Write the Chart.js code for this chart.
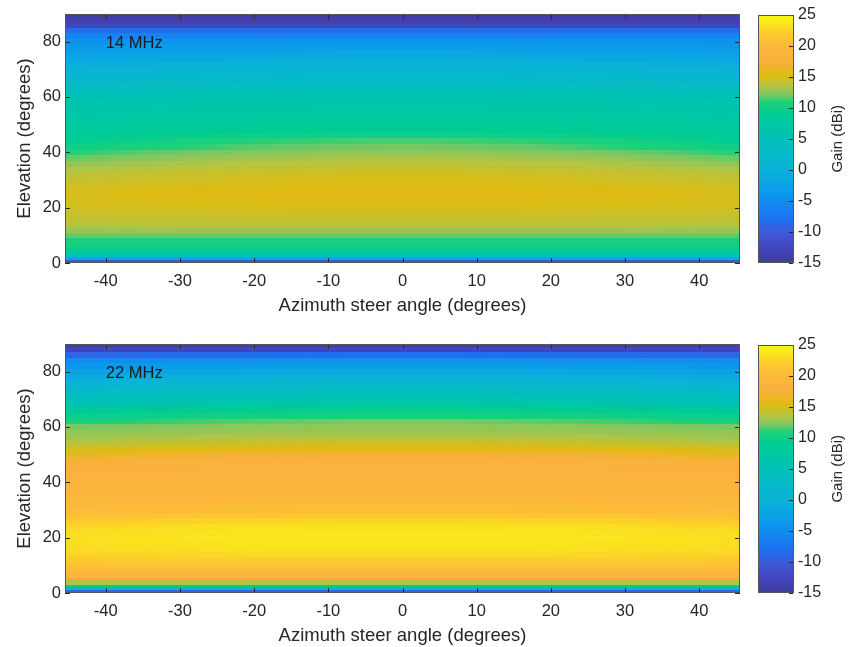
<!DOCTYPE html>
<html>
<head>
<meta charset="utf-8">
<script src="https://cdn.jsdelivr.net/npm/chart.js@4.4.1/dist/chart.umd.min.js"></script>
<style>
  body { margin: 0; background: #fff; }
  .panel { position: absolute; left: 0; width: 851px; height: 317px; }
  .panel canvas { position: absolute; top: 0; }
</style>
</head>
<body>
<div class="panel" style="top:0">
  <canvas id="map14" width="750" height="317" style="left:0"></canvas>
  <canvas id="bar14" width="101" height="317" style="left:750px"></canvas>
</div>
<div class="panel" style="top:330px">
  <canvas id="map22" width="750" height="317" style="left:0"></canvas>
  <canvas id="bar22" width="101" height="317" style="left:750px"></canvas>
</div>
<script>
// cell centres along azimuth, cell edges along elevation (degrees)
const azimuth = [-45, -37.5, -30, -22.5, -15, -7.5, 0, 7.5, 15, 22.5, 30, 37.5, 45];
const elevEdges = [0, 1, 2, 3, 5, 7, 9, 11, 13, 15, 17, 19, 21, 23, 25, 27, 29, 31, 33, 35, 37, 39, 41,
  43, 45, 47, 49, 51, 53, 55, 57, 59, 61, 63, 65, 67, 69, 71, 73, 75, 77, 79, 81, 83, 85, 87, 89, 90];
const xTicks = [-40, -30, -20, -10, 0, 10, 20, 30, 40];
const yTicks = [0, 20, 40, 60, 80];
const gainTicks = [-15, -10, -5, 0, 5, 10, 15, 20, 25];

// gain (dBi), one row per elevation band, bottom to top
const gain14 = [
  [-10,-10,-10,-10,-10,-10,-10,-10,-10,-10,-10,-10,-10],
  [-1,-1,-1,-1,-1,-1,-1,-1,-1,-1,-1,-1,-1],
  [3,3,3,3,3,3,3,3,3,3,3,3,3],
  [7.5,7.5,7.5,7.5,7.5,7.5,7.5,7.5,7.5,7.5,7.5,7.5,7.5],
  [10,10,10,10,10,10,10,10,10,10,10,10,10],
  [10.5,10.5,10.5,10.5,10.5,10.5,10.5,10.5,10.5,10.5,10.5,10.5,10.5],
  [11.8,11.8,11.8,11.8,11.8,11.8,11.8,11.8,11.8,11.8,11.8,11.8,11.8],
  [12.8,12.9,13,13,13,13,13,13,13,13,13,12.9,12.8],
  [13.6,13.7,13.8,13.8,13.8,13.8,13.8,13.8,13.8,13.8,13.8,13.7,13.6],
  [14.1,14.2,14.2,14.3,14.3,14.3,14.3,14.3,14.3,14.3,14.2,14.2,14.1],
  [14.4,14.5,14.6,14.6,14.7,14.7,14.7,14.7,14.7,14.6,14.6,14.5,14.4],
  [14.7,14.8,14.9,14.9,15,15,15,15,15,14.9,14.9,14.8,14.7],
  [14.8,15,15.1,15.2,15.2,15.3,15.3,15.3,15.2,15.2,15.1,15,14.8],
  [14.9,15.1,15.3,15.4,15.5,15.6,15.6,15.6,15.5,15.4,15.3,15.1,14.9],
  [14.9,15.1,15.3,15.4,15.5,15.6,15.6,15.6,15.5,15.4,15.3,15.1,14.9],
  [14.6,14.8,15,15.1,15.2,15.3,15.3,15.3,15.2,15.1,15,14.8,14.6],
  [14.2,14.4,14.6,14.8,14.9,15,15,15,14.9,14.8,14.6,14.4,14.2],
  [13.8,14.1,14.4,14.6,14.7,14.8,14.8,14.8,14.7,14.6,14.4,14.1,13.8],
  [13.2,13.5,13.8,14,14.2,14.3,14.3,14.3,14.2,14,13.8,13.5,13.2],
  [12.6,13,13.3,13.5,13.7,13.8,13.8,13.8,13.7,13.5,13.3,13,12.6],
  [11.8,12.2,12.6,12.9,13,13.2,13.2,13.2,13,12.9,12.6,12.2,11.8],
  [11,11.5,11.9,12.2,12.4,12.6,12.6,12.6,12.4,12.2,11.9,11.5,11],
  [9.8,10.5,11,11.5,11.8,11.9,12,11.9,11.8,11.5,11,10.5,9.8],
  [9,9.8,10.4,10.9,11.2,11.4,11.5,11.4,11.2,10.9,10.4,9.8,9],
  [8.5,9,9.3,9.6,9.8,10,10,10,9.8,9.6,9.3,9,8.5],
  [8,8.3,8.6,8.8,8.9,9,9,9,8.9,8.8,8.6,8.3,8],
  [7.6,7.9,8.1,8.3,8.4,8.5,8.5,8.5,8.4,8.3,8.1,7.9,7.6],
  [7.2,7.4,7.6,7.8,7.9,8,8,8,7.9,7.8,7.6,7.4,7.2],
  [6.8,7,7.2,7.3,7.4,7.5,7.5,7.5,7.4,7.3,7.2,7,6.8],
  [6.3,6.5,6.7,6.8,6.9,7,7,7,6.9,6.8,6.7,6.5,6.3],
  [5.7,5.9,6.1,6.3,6.4,6.5,6.5,6.5,6.4,6.3,6.1,5.9,5.7],
  [5,5.3,5.6,5.8,5.9,6,6,6,5.9,5.8,5.6,5.3,5],
  [4,4.3,4.6,4.8,4.9,5,5,5,4.9,4.8,4.6,4.3,4],
  [3,3.3,3.6,3.8,3.9,4,4,4,3.9,3.8,3.6,3.3,3],
  [2,2.3,2.6,2.8,2.9,3,3,3,2.9,2.8,2.6,2.3,2],
  [1,1.3,1.6,1.8,1.9,2,2,2,1.9,1.8,1.6,1.3,1],
  [0,0.3,0.6,0.8,0.9,1,1,1,0.9,0.8,0.6,0.3,0],
  [-1,-0.7,-0.4,-0.2,-0.1,0,0,0,-0.1,-0.2,-0.4,-0.7,-1],
  [-2,-1.7,-1.4,-1.2,-1.1,-1,-1,-1,-1.1,-1.2,-1.4,-1.7,-2],
  [-2.8,-2.6,-2.4,-2.2,-2.1,-2,-2,-2,-2.1,-2.2,-2.4,-2.6,-2.8],
  [-3.6,-3.4,-3.3,-3.2,-3.1,-3,-3,-3,-3.1,-3.2,-3.3,-3.4,-3.6],
  [-4.5,-4.3,-4.2,-4.1,-4,-4,-4,-4,-4,-4.1,-4.2,-4.3,-4.5],
  [-6,-6,-6,-6,-6,-6,-6,-6,-6,-6,-6,-6,-6],
  [-8.5,-8.5,-8.5,-8.5,-8.5,-8.5,-8.5,-8.5,-8.5,-8.5,-8.5,-8.5,-8.5],
  [-13,-13,-13,-13,-13,-13,-13,-13,-13,-13,-13,-13,-13],
  [-14,-14,-14,-14,-14,-14,-14,-14,-14,-14,-14,-14,-14],
  [-14.5,-14.5,-14.5,-14.5,-14.5,-14.5,-14.5,-14.5,-14.5,-14.5,-14.5,-14.5,-14.5]
];

const gain22 = [
  [-9,-9,-9,-9,-9,-9,-9,-9,-9,-9,-9,-9,-9],
  [0,0,0,0,0,0,0,0,0,0,0,0,0],
  [8,8,8,8,8,8,8,8,8,8,8,8,8],
  [13.5,13.5,13.5,13.5,13.5,13.5,13.5,13.5,13.5,13.5,13.5,13.5,13.5],
  [18.5,18.5,18.5,18.5,18.5,18.5,18.5,18.5,18.5,18.5,18.5,18.5,18.5],
  [20,20,20,20,20,20,20,20,20,20,20,20,20],
  [21,21,21,21,21,21,21,21,21,21,21,21,21],
  [21.9,22,22.1,22.1,22.2,22.2,22.2,22.2,22.2,22.1,22.1,22,21.9],
  [22.6,22.7,22.8,22.9,23,23,23,23,23,22.9,22.8,22.7,22.6],
  [23,23.1,23.2,23.3,23.4,23.4,23.4,23.4,23.4,23.3,23.2,23.1,23],
  [23.2,23.3,23.4,23.5,23.6,23.6,23.6,23.6,23.6,23.5,23.4,23.3,23.2],
  [23.2,23.4,23.5,23.6,23.6,23.7,23.7,23.7,23.6,23.6,23.5,23.4,23.2],
  [23,23.2,23.3,23.5,23.5,23.6,23.6,23.6,23.5,23.5,23.3,23.2,23],
  [22.6,22.8,23,23.2,23.3,23.4,23.4,23.4,23.3,23.2,23,22.8,22.6],
  [21.8,22.1,22.3,22.5,22.6,22.7,22.7,22.7,22.6,22.5,22.3,22.1,21.8],
  [20.8,21,21.2,21.4,21.5,21.6,21.6,21.6,21.5,21.4,21.2,21,20.8],
  [20.2,20.4,20.5,20.7,20.7,20.8,20.8,20.8,20.7,20.7,20.5,20.4,20.2],
  [19.6,19.8,19.9,20.1,20.1,20.2,20.2,20.2,20.1,20.1,19.9,19.8,19.6],
  [19.2,19.3,19.4,19.5,19.6,19.6,19.6,19.6,19.6,19.5,19.4,19.3,19.2],
  [19,19.1,19.1,19.2,19.2,19.2,19.2,19.2,19.2,19.2,19.1,19.1,19],
  [18.8,18.9,18.9,19,19,19,19,19,19,19,18.9,18.9,18.8],
  [18.6,18.7,18.7,18.8,18.8,18.8,18.8,18.8,18.8,18.8,18.7,18.7,18.6],
  [18.4,18.5,18.5,18.6,18.6,18.6,18.6,18.6,18.6,18.6,18.5,18.5,18.4],
  [18.2,18.3,18.3,18.4,18.4,18.4,18.4,18.4,18.4,18.4,18.3,18.3,18.2],
  [18,18.1,18.1,18.2,18.2,18.2,18.2,18.2,18.2,18.2,18.1,18.1,18],
  [17.2,17.4,17.6,17.8,17.9,18,18,18,17.9,17.8,17.6,17.4,17.2],
  [15.8,16.2,16.6,16.9,17,17.2,17.2,17.2,17,16.9,16.6,16.2,15.8],
  [14.8,15.1,15.4,15.6,15.7,15.8,15.8,15.8,15.7,15.6,15.4,15.1,14.8],
  [13.6,14,14.3,14.5,14.7,14.8,14.8,14.8,14.7,14.5,14.3,14,13.6],
  [13,13.2,13.3,13.5,13.5,13.6,13.6,13.6,13.5,13.5,13.3,13.2,13],
  [12.6,12.7,12.8,12.9,13,13,13,13,13,12.9,12.8,12.7,12.6],
  [12,12.2,12.3,12.5,12.5,12.6,12.6,12.6,12.5,12.5,12.3,12.2,12],
  [10.5,11,11.3,11.6,11.8,12,12,12,11.8,11.6,11.3,11,10.5],
  [9.5,9.8,10.1,10.3,10.4,10.5,10.5,10.5,10.4,10.3,10.1,9.8,9.5],
  [7.5,8.1,8.6,9,9.3,9.4,9.5,9.4,9.3,9,8.6,8.1,7.5],
  [6,6.5,6.8,7.1,7.3,7.5,7.5,7.5,7.3,7.1,6.8,6.5,6],
  [4.5,5,5.3,5.6,5.8,6,6,6,5.8,5.6,5.3,5,4.5],
  [3,3.5,3.8,4.1,4.3,4.5,4.5,4.5,4.3,4.1,3.8,3.5,3],
  [1.5,2,2.3,2.6,2.8,3,3,3,2.8,2.6,2.3,2,1.5],
  [0,0.5,0.8,1.1,1.3,1.5,1.5,1.5,1.3,1.1,0.8,0.5,0],
  [-1.2,-0.8,-0.5,-0.3,-0.1,0,0,0,-0.1,-0.3,-0.5,-0.8,-1.2],
  [-2.5,-2.2,-1.9,-1.8,-1.6,-1.5,-1.5,-1.5,-1.6,-1.8,-1.9,-2.2,-2.5],
  [-3.8,-3.6,-3.4,-3.2,-3.1,-3,-3,-3,-3.1,-3.2,-3.4,-3.6,-3.8],
  [-5,-4.8,-4.7,-4.6,-4.6,-4.5,-4.5,-4.5,-4.6,-4.6,-4.7,-4.8,-5],
  [-9,-8.7,-8.4,-8.3,-8.1,-8,-8,-8,-8.1,-8.3,-8.4,-8.7,-9],
  [-13,-13,-13,-13,-13,-13,-13,-13,-13,-13,-13,-13,-13],
  [-14,-14,-14,-14,-14,-14,-14,-14,-14,-14,-14,-14,-14]
];

// colour map, dBi -> colour
const cmapStops = [-15, -12.5, -10, -8, -6, -3, 0, 3, 6, 9, 11, 12, 13.5, 15.2, 16.5, 18, 20.5, 22, 23.5, 25];
const cmapColors = ['#3f3c9c', '#4347bf', '#3d5ad8', '#1e70f0', '#1484f2', '#0a9ee8', '#0ab2d8', '#06bcc6',
  '#00c4b0', '#00cc92', '#20d078', '#78c864', '#b4c444', '#dcbc12', '#f0b42c', '#fbb040', '#fcbc38',
  '#fccb2c', '#fae41e', '#f8fa0e'];

const FONT = "'Liberation Sans', Arial, Helvetica, sans-serif";
const INK = '#262626';
Chart.defaults.font.family = FONT;
Chart.defaults.color = INK;

const rgbStops = cmapColors.map(h => [1, 3, 5].map(i => parseInt(h.substr(i, 2), 16)));
function colorFor(v) {
  if (v <= cmapStops[0]) return cmapColors[0];
  const n = cmapStops.length;
  if (v >= cmapStops[n - 1]) return cmapColors[n - 1];
  let i = 1;
  while (cmapStops[i] < v) i++;
  const t = (v - cmapStops[i - 1]) / (cmapStops[i] - cmapStops[i - 1]);
  const a = rgbStops[i - 1], b = rgbStops[i];
  return 'rgb(' + a.map((c, k) => Math.round(c + (b[k] - c) * t)).join(',') + ')';
}

function heatPlugin(gain, label) {
  return {
    id: 'heat',
    beforeDatasetsDraw(chart) {
      const { ctx, chartArea: a, scales: { x, y } } = chart;
      ctx.save();
      ctx.beginPath();
      ctx.rect(a.left, a.top, a.width, a.height);
      ctx.clip();
      const x0 = x.getPixelForValue(azimuth[0]);
      const x1 = x.getPixelForValue(azimuth[azimuth.length - 1]);
      gain.forEach((row, r) => {
        const yTop = Math.round(y.getPixelForValue(elevEdges[r + 1]));
        const yBot = Math.round(y.getPixelForValue(elevEdges[r]));
        // shade each elevation band smoothly across the azimuth cell centres
        const grad = ctx.createLinearGradient(x0, 0, x1, 0);
        row.forEach((v, c) => {
          grad.addColorStop((x.getPixelForValue(azimuth[c]) - x0) / (x1 - x0), colorFor(v));
        });
        ctx.fillStyle = grad;
        ctx.fillRect(Math.floor(a.left), yTop, Math.ceil(a.width) + 1, yBot - yTop);
      });
      ctx.restore();
    },
    afterDatasetsDraw(chart) {
      const { ctx, chartArea: a, scales: { x, y } } = chart;
      ctx.save();
      ctx.strokeStyle = INK;
      ctx.lineWidth = 1;
      ctx.beginPath();
      xTicks.forEach(v => {
        const px = Math.round(x.getPixelForValue(v)) + 0.5;
        ctx.moveTo(px, a.bottom); ctx.lineTo(px, a.bottom - 5);
        ctx.moveTo(px, a.top); ctx.lineTo(px, a.top + 5);
      });
      yTicks.forEach(v => {
        const py = Math.round(y.getPixelForValue(v)) + 0.5;
        ctx.moveTo(a.left, py); ctx.lineTo(a.left + 5, py);
        ctx.moveTo(a.right, py); ctx.lineTo(a.right - 5, py);
      });
      ctx.stroke();
      ctx.strokeStyle = '#555';
      ctx.strokeRect(Math.round(a.left) + 0.5, Math.round(a.top) + 0.5, Math.round(a.width) - 1, Math.round(a.height) - 1);
      ctx.fillStyle = '#1a1a1a';
      ctx.font = '16.5px ' + FONT;
      ctx.textBaseline = 'middle';
      ctx.fillText(label, x.getPixelForValue(-40), y.getPixelForValue(79.5));
      ctx.restore();
    }
  };
}

const colorbarPlugin = {
  id: 'colorbar',
  beforeDatasetsDraw(chart) {
    const { ctx, chartArea: a, scales: { y } } = chart;
    for (let py = Math.round(a.top); py < Math.round(a.bottom); py++) {
      ctx.fillStyle = colorFor(y.getValueForPixel(py + 0.5));
      ctx.fillRect(Math.round(a.left), py, Math.round(a.width), 1);
    }
  },
  afterDatasetsDraw(chart) {
    const { ctx, chartArea: a, scales: { y } } = chart;
    ctx.save();
    ctx.strokeStyle = INK;
    ctx.lineWidth = 1;
    ctx.beginPath();
    gainTicks.forEach(v => {
      const py = Math.round(y.getPixelForValue(v)) + 0.5;
      ctx.moveTo(a.right, py); ctx.lineTo(a.right - 4, py);
    });
    ctx.stroke();
    ctx.strokeStyle = '#555';
    ctx.strokeRect(Math.round(a.left) + 0.5, Math.round(a.top) + 0.5, Math.round(a.width) - 1, Math.round(a.height) - 1);
    ctx.translate(88, (a.top + a.bottom) / 2);
    ctx.rotate(-Math.PI / 2);
    ctx.fillStyle = INK;
    ctx.font = '15px ' + FONT;
    ctx.textAlign = 'center';
    ctx.textBaseline = 'middle';
    ctx.fillText('Gain (dBi)', 0, 0);
    ctx.restore();
  }
};

function makeMap(id, gain, label) {
  return new Chart(document.getElementById(id), {
    type: 'scatter',
    data: { datasets: [] },
    options: {
      responsive: false,
      animation: false,
      devicePixelRatio: 1,
      layout: { padding: { top: 12.5, right: 10, left: 0, bottom: 0 } },
      plugins: { legend: { display: false }, tooltip: { enabled: false } },
      scales: {
        x: {
          type: 'linear', min: -45.5, max: 45.5,
          grid: { display: false, drawTicks: false },
          border: { display: false },
          ticks: { padding: 9, font: { size: 16.5 } },
          title: { display: true, text: 'Azimuth steer angle (degrees)', font: { size: 18.5 }, padding: { top: 0, bottom: 0 } },
          afterBuildTicks: s => { s.ticks = xTicks.map(v => ({ value: v })); },
          afterFit: s => { s.height = 54; }
        },
        y: {
          type: 'linear', min: 0, max: 90,
          grid: { display: false, drawTicks: false },
          border: { display: false },
          ticks: { padding: 4, font: { size: 16.5 } },
          title: { display: true, text: 'Elevation (degrees)', font: { size: 18.5 }, padding: { top: 14, bottom: 0 } },
          afterBuildTicks: s => { s.ticks = yTicks.map(v => ({ value: v })); },
          afterFit: s => { s.width = 65; }
        }
      }
    },
    plugins: [heatPlugin(gain, label)]
  });
}

function makeBar(id) {
  return new Chart(document.getElementById(id), {
    type: 'scatter',
    data: { datasets: [] },
    options: {
      responsive: false,
      animation: false,
      devicePixelRatio: 1,
      layout: { padding: { top: 12.5, left: 7.5, right: 0, bottom: 54 } },
      plugins: { legend: { display: false }, tooltip: { enabled: false } },
      scales: {
        x: { display: false, min: 0, max: 1 },
        y: {
          type: 'linear', position: 'right', min: -15, max: 25,
          grid: { display: false, drawTicks: false },
          border: { display: false },
          ticks: { padding: 5, font: { size: 16 } },
          afterBuildTicks: s => { s.ticks = gainTicks.map(v => ({ value: v })); },
          afterFit: s => { s.width = 58; }
        }
      }
    },
    plugins: [colorbarPlugin]
  });
}

makeMap('map14', gain14, '14 MHz');
makeBar('bar14');
makeMap('map22', gain22, '22 MHz');
makeBar('bar22');
</script>
</body>
</html>
